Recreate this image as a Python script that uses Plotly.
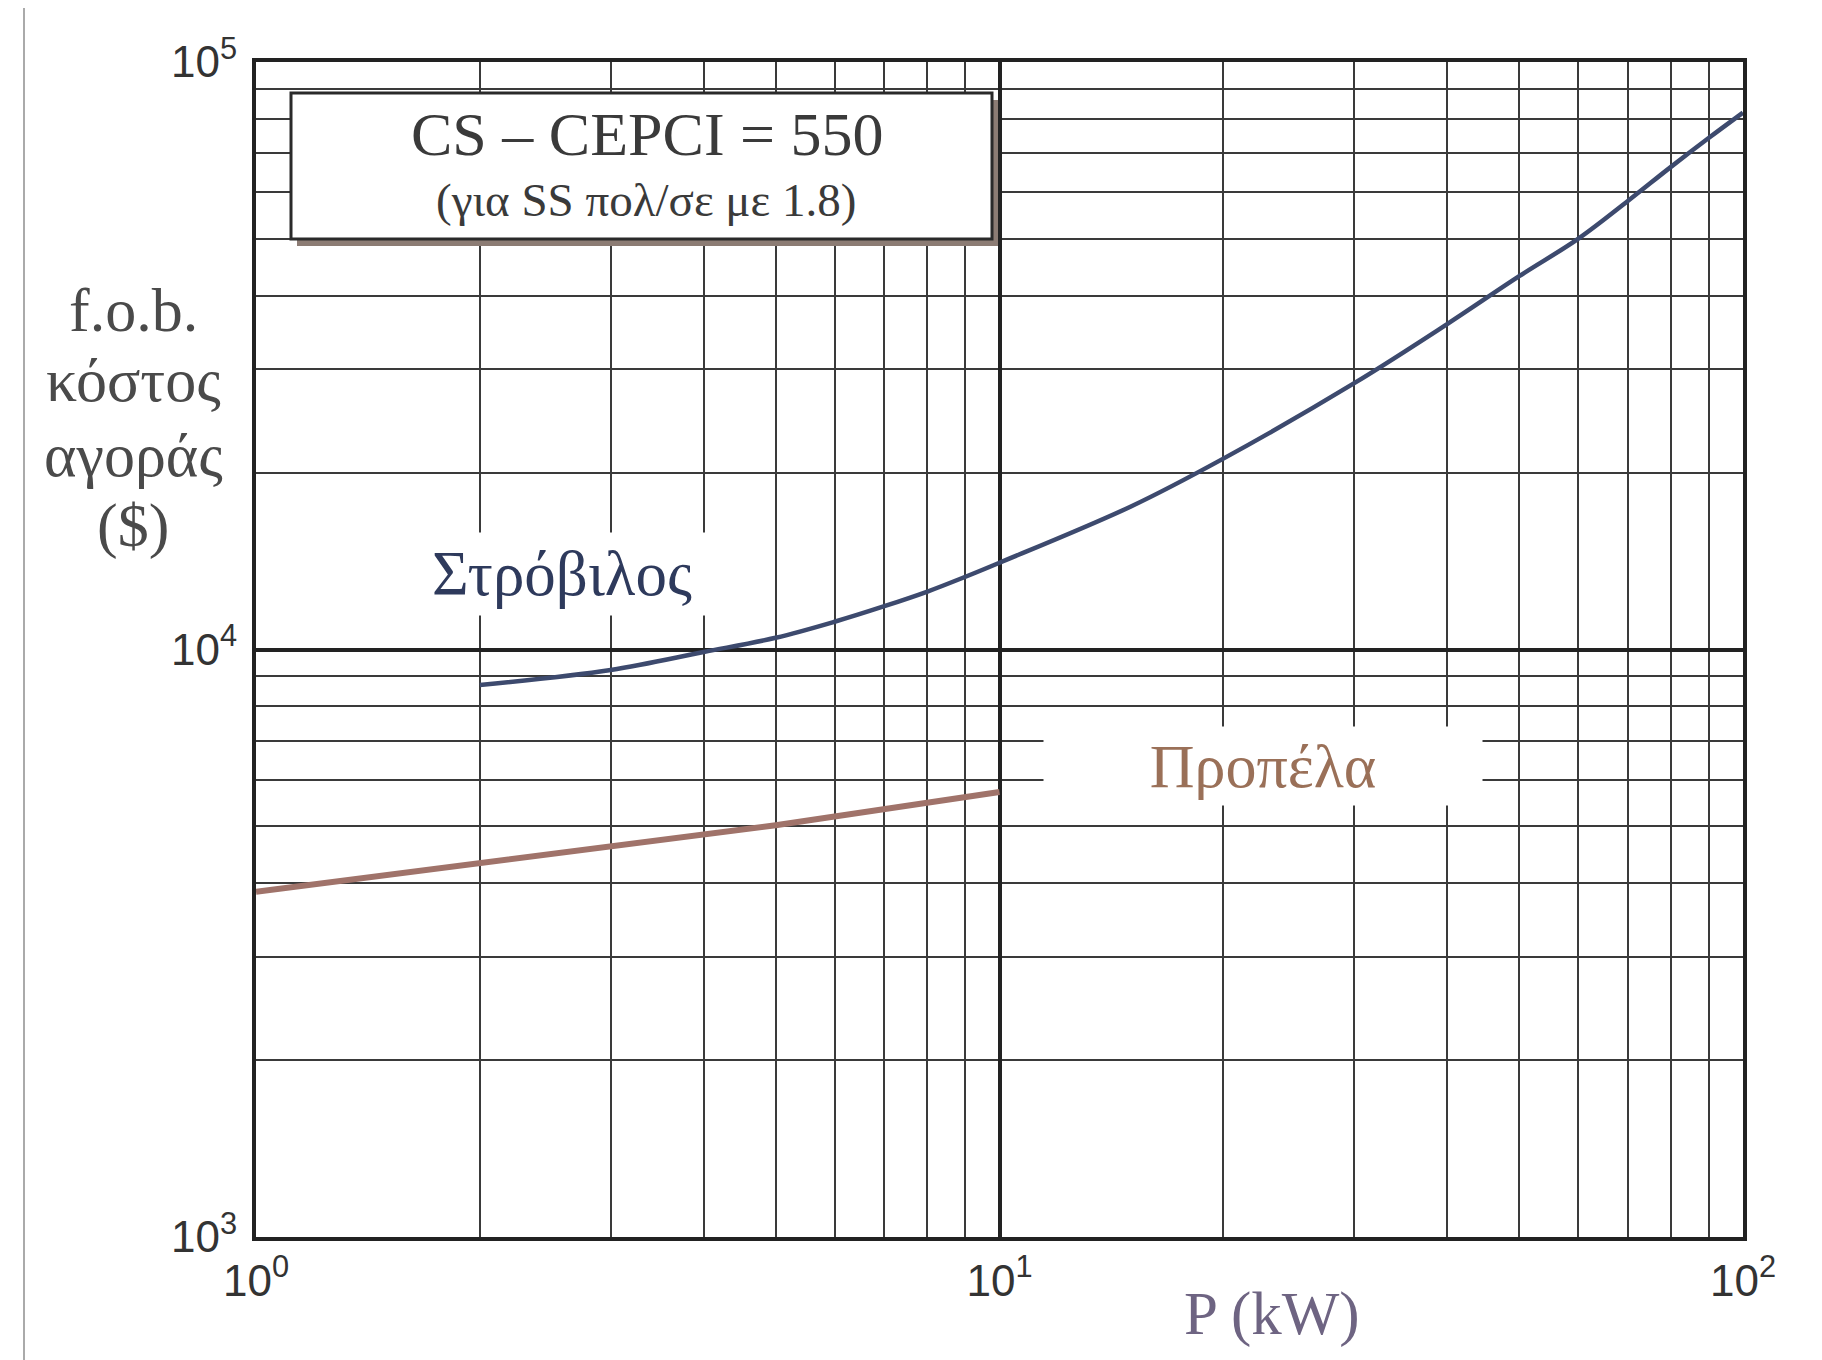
import plotly.graph_objects as go

# ---- data ----
turbine_P = [2, 3, 4, 5, 6, 7, 8, 9, 10, 15, 20, 30, 40, 50, 60, 70, 80, 90, 100]
turbine_cost = [8700, 9230, 9900, 10470, 11150, 11850, 12550, 13300, 14050,
                17500, 21130, 28400, 35800, 43200, 50000, 58000, 66300, 74300, 82000]

propeller_P = [1, 2, 3, 5, 10]
propeller_cost = [3870, 4330, 4630, 5020, 5720]

x_tickvals = [1, 10, 100]
x_ticktext = ["10<sup>0</sup>", "10<sup>1</sup>", "10<sup>2</sup>"]
y_tickvals = [1e3, 1e4, 1e5]
y_ticktext = ["10<sup>3</sup>", "10<sup>4</sup>", "10<sup>5</sup>"]
x_minor = [2, 3, 4, 5, 6, 7, 8, 9, 20, 30, 40, 50, 60, 70, 80, 90]
y_minor = [2000, 3000, 4000, 5000, 6000, 7000, 8000, 9000,
           20000, 30000, 40000, 50000, 60000, 70000, 80000, 90000]

turbine_label = "Στρόβιλος"
propeller_label = "Προπέλα"
box_line1 = "CS – CEPCI = 550"
box_line2 = "(για SS πολ/σε με 1.8)"
y_title_lines = ["f.o.b.", "κόστος", "αγοράς", "($)"]
x_title = "P (kW)"

SERIF = "Liberation Serif, Times New Roman, serif"
SANS = "Liberation Sans Narrow, Arial Narrow, Liberation Sans, Arial, sans-serif"

W, H = 1822, 1360
ML, MR, MT, MB = 248, 87, 54, 131
PW, PH = W - ML - MR, H - MT - MB


def px(x):
    return (x - ML) / PW


def py(y):
    return (H - MB - y) / PH


fig = go.Figure()
fig.add_trace(go.Scatter(x=propeller_P, y=propeller_cost, mode="lines",
                         line=dict(color="#a0736a", width=6), showlegend=False,
                         hoverinfo="skip"))
fig.add_trace(go.Scatter(x=turbine_P, y=turbine_cost, mode="lines",
                         line=dict(color="#3d4a6e", width=4.5, shape="spline"),
                         showlegend=False, hoverinfo="skip"))

axis_common = dict(
    type="log", showgrid=True, gridcolor="#222222", gridwidth=3.5,
    showline=True, mirror=True, linecolor="#222222", linewidth=4,
    ticks="", zeroline=False, tickmode="array",
    tickfont=dict(family=SANS, size=44, color="#333333"),
)
fig.update_xaxes(**axis_common, range=[0, 2], tickvals=x_tickvals, ticktext=x_ticktext,
                 ticklabelstandoff=2,
                 minor=dict(tickmode="array", tickvals=x_minor, showgrid=True,
                            gridcolor="#3a3a3a", gridwidth=2, ticks=""))
fig.update_yaxes(**axis_common, range=[3, 5], tickvals=y_tickvals, ticktext=y_ticktext,
                 ticklabelstandoff=6,
                 minor=dict(tickmode="array", tickvals=y_minor, showgrid=True,
                            gridcolor="#3a3a3a", gridwidth=2, ticks=""))

# CEPCI box (shadow + box)
bx0, bx1, by_top, by_bot = 283, 984, 85, 231
fig.add_shape(type="rect", xref="paper", yref="paper",
              x0=px(bx0 + 6), x1=px(bx1 + 6), y0=py(by_bot + 7), y1=py(by_top + 7),
              fillcolor="#8c7c74", line=dict(width=0), layer="above")
fig.add_shape(type="rect", xref="paper", yref="paper",
              x0=px(bx0), x1=px(bx1), y0=py(by_bot), y1=py(by_top),
              fillcolor="white", line=dict(color="#2a2a2a", width=3), layer="above")

# scan page edge on the left
fig.add_shape(type="line", xref="paper", yref="paper", x0=px(16), x1=px(16),
              y0=py(H + 10), y1=py(-10), line=dict(color="#aaaaaa", width=2))

ann = []
ann.append(dict(text=box_line1, xref="paper", yref="paper", x=px(639), y=py(126),
                showarrow=False, xanchor="center", yanchor="middle",
                font=dict(family=SERIF, size=62, color="#3a3a3a")))
ann.append(dict(text=box_line2, xref="paper", yref="paper", x=px(638), y=py(192),
                showarrow=False, xanchor="center", yanchor="middle",
                font=dict(family=SERIF, size=47, color="#3a3a3a")))
ann.append(dict(text=turbine_label, xref="paper", yref="paper", x=px(554), y=py(566),
                showarrow=False, xanchor="center", yanchor="middle",
                bgcolor="white", width=282, height=78, borderpad=2,
                font=dict(family=SERIF, size=63, color="#2e3a5c")))
ann.append(dict(text=propeller_label, xref="paper", yref="paper", x=px(1255), y=py(758),
                showarrow=False, xanchor="center", yanchor="middle",
                bgcolor="white", width=434, height=74, borderpad=2,
                font=dict(family=SERIF, size=62, color="#9a7058")))
title_y_px = [302, 372, 447, 517]
for line, ypx in zip(y_title_lines, title_y_px):
    ann.append(dict(text=line, xref="paper", yref="paper", x=px(125), y=py(ypx),
                    showarrow=False, xanchor="center", yanchor="middle",
                    font=dict(family=SERIF, size=62, color="#4a4a4a")))
ann.append(dict(text=x_title, xref="paper", yref="paper", x=px(1264), y=py(1306),
                showarrow=False, xanchor="center", yanchor="middle",
                font=dict(family=SERIF, size=61, color="#6e6482")))
fig.update_layout(annotations=ann)

fig.update_layout(
    width=W, height=H,
    margin=dict(l=ML, r=MR, t=MT, b=MB),
    paper_bgcolor="white", plot_bgcolor="white",
    showlegend=False,
)

fig.write_html("out.html")
